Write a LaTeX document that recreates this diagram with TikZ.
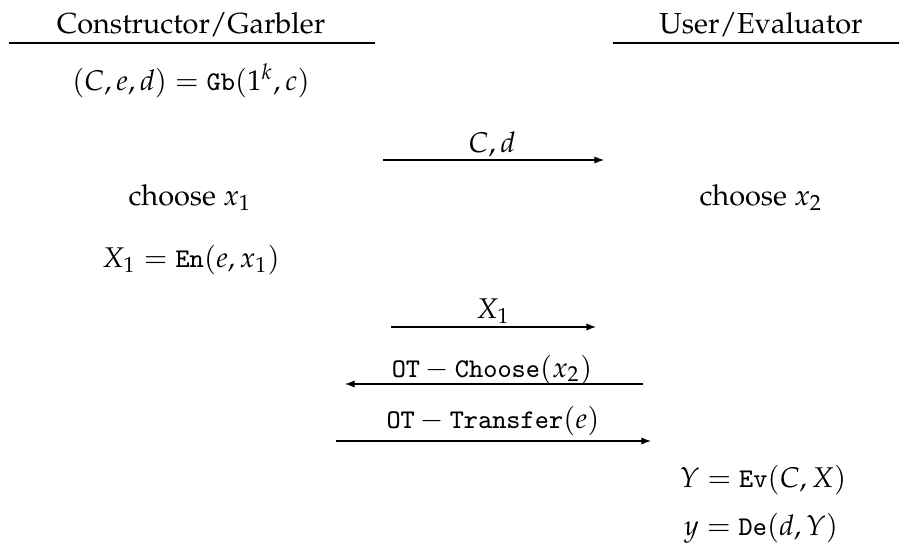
\documentclass[tikz,border=0pt]{standalone}
\usepackage[T1]{fontenc}
\usepackage{mathpazo}
\usetikzlibrary{arrows.meta}
\begin{document}
\begin{tikzpicture}[x=0.33333pt, y=-0.33333pt,
  txt/.style={anchor=base, inner sep=0pt, font=\fontsize{9.65}{12}\selectfont},
  eqn/.style={anchor=base, inner sep=0pt, font=\fontsize{9.5}{12}\selectfont},
  rule/.style={line width=0.45pt},
  msg/.style={line width=0.4pt, -{Latex[length=3.2pt, width=2.4pt]}}]
  \useasboundingbox (0,0) rectangle (899,552);

  % party headings
  \node[txt] (gh) at (191,33) {Constructor/Garbler};
  \node[txt] (eh) at (761,33) {User/Evaluator};
  \coordinate (glA) at (9,43);   \coordinate (glB) at (375,43);
  \coordinate (elA) at (613,43); \coordinate (elB) at (899,43);
  \draw[rule] (glA) -- (glB);
  \draw[rule] (elA) -- (elB);

  % garbler side
  \node[eqn] (gb) at (191,90) {$(C,e,d)=\mathtt{Gb}(1^k,c)$};
  \node[txt] (c1) at (190,205) {choose $x_1$};
  \node[eqn] (en) at (191,267) {$X_1=\mathtt{En}(e,x_1)$};

  % evaluator side
  \node[txt] (c2) at (761,205) {choose $x_2$};
  \node[eqn] (ev) at (763,487) {$Y=\mathtt{Ev}(C,X)$};
  \node[eqn] (de) at (761,535) {$y=\mathtt{De}(d,Y)$};

  % messages
  \coordinate (m1a) at (383,160); \coordinate (m1b) at (604,160);
  \draw[msg] (m1a) -- (m1b);
  \node[eqn] (m1) at (492,152) {$C,d$};

  \coordinate (m2a) at (391,327); \coordinate (m2b) at (596,327);
  \draw[msg] (m2a) -- (m2b);
  \node[eqn] (m2) at (493,318) {$X_1$};

  \coordinate (m3a) at (643,384); \coordinate (m3b) at (345,384);
  \draw[msg] (m3a) -- (m3b);
  \node[eqn] (m3) at (492,377) {$\mathtt{OT}-\mathtt{Choose}(x_2)$};

  \coordinate (m4a) at (336,441); \coordinate (m4b) at (651,441);
  \draw[msg] (m4a) -- (m4b);
  \node[eqn] (m4) at (493,428) {$\mathtt{OT}-\mathtt{Transfer}(e)$};
\end{tikzpicture}
\end{document}
